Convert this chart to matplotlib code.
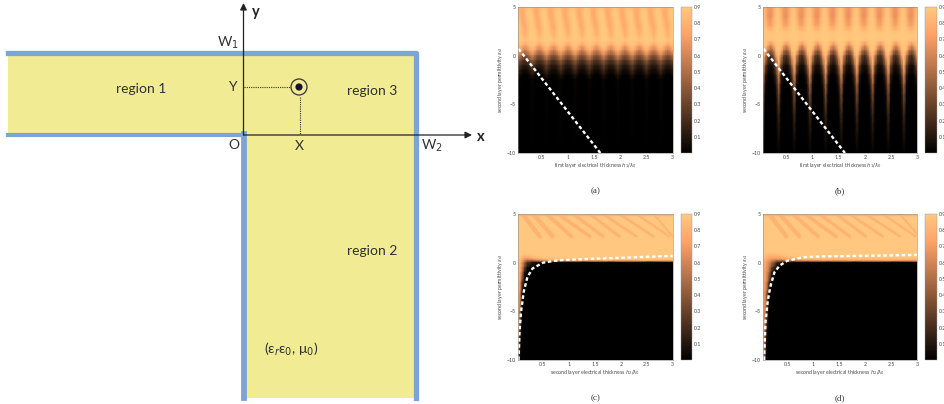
import matplotlib
matplotlib.use("Agg")
import matplotlib.pyplot as plt
import numpy as np
from matplotlib.patches import Circle, Rectangle

W, H = 944, 404
plt.rcParams["font.family"] = ["Lato", "DejaVu Sans"]

# --- one repeating period of panels (a) and (b)
rows_a = [5, 4.5, 4, 3, 2, 1.5, 1, 0.5, 0, -0.5, -1, -1.5, -2, -2.5, -10]
cell_a = [
    [0.84, 0.80, 0.78, 0.82, 0.86, 0.88],
    [0.88, 0.78, 0.76, 0.84, 0.89, 0.90],
    [0.90, 0.80, 0.76, 0.82, 0.89, 0.90],
    [0.90, 0.88, 0.78, 0.76, 0.84, 0.90],
    [0.90, 0.90, 0.88, 0.80, 0.86, 0.90],
    [0.90, 0.90, 0.90, 0.88, 0.89, 0.90],
    [0.88, 0.86, 0.78, 0.72, 0.78, 0.86],
    [0.80, 0.72, 0.62, 0.56, 0.62, 0.72],
    [0.62, 0.52, 0.42, 0.38, 0.42, 0.52],
    [0.42, 0.34, 0.25, 0.22, 0.26, 0.34],
    [0.28, 0.20, 0.14, 0.12, 0.14, 0.20],
    [0.20, 0.12, 0.06, 0.05, 0.06, 0.12],
    [0.10, 0.05, 0.02, 0.01, 0.02, 0.05],
    [0.03, 0.01, 0.00, 0.00, 0.00, 0.01],
    [0.00, 0.00, 0.00, 0.00, 0.00, 0.00],
]
rows_b = [5, 4, 3, 2.5, 2, 1.5, 1, 0.5, 0, -1, -2, -3, -4, -5, -6, -7, -8, -9, -10]
cell_b = [
    [0.88, 0.78, 0.70, 0.68, 0.75, 0.86],
    [0.89, 0.80, 0.68, 0.66, 0.76, 0.88],
    [0.90, 0.86, 0.76, 0.74, 0.84, 0.90],
    [0.90, 0.89, 0.87, 0.86, 0.88, 0.90],
    [0.90, 0.90, 0.90, 0.90, 0.90, 0.90],
    [0.90, 0.90, 0.88, 0.86, 0.88, 0.90],
    [0.90, 0.88, 0.72, 0.62, 0.74, 0.88],
    [0.90, 0.80, 0.52, 0.42, 0.54, 0.82],
    [0.88, 0.60, 0.30, 0.22, 0.36, 0.70],
    [0.80, 0.30, 0.10, 0.06, 0.12, 0.40],
    [0.62, 0.12, 0.02, 0.01, 0.03, 0.18],
    [0.45, 0.05, 0.00, 0.00, 0.00, 0.08],
    [0.34, 0.02, 0.00, 0.00, 0.00, 0.03],
    [0.26, 0.01, 0.00, 0.00, 0.00, 0.02],
    [0.18, 0.00, 0.00, 0.00, 0.00, 0.01],
    [0.13, 0.00, 0.00, 0.00, 0.00, 0.00],
    [0.09, 0.00, 0.00, 0.00, 0.00, 0.00],
    [0.05, 0.00, 0.00, 0.00, 0.00, 0.00],
    [0.02, 0.00, 0.00, 0.00, 0.00, 0.00],
]

# --- panels (c) and (d): coarse samples around the black corner
cols_cd = [0.02, 0.06, 0.1, 0.15, 0.2, 0.3, 0.4, 0.5, 0.7, 1, 1.5, 2, 3]
rows_cd = [5, 1.5, 1, 0.7, 0.4, 0.2, 0, -0.5, -1, -2, -3, -5, -7, -10]
field_c = [
    [0.90] * 13,
    [0.90] * 13,
    [0.90, 0.90, 0.90, 0.90, 0.90, 0.90, 0.90, 0.90, 0.90, 0.90, 0.90, 0.90, 0.90],
    [0.90, 0.90, 0.88, 0.84, 0.85, 0.88, 0.90, 0.90, 0.90, 0.90, 0.90, 0.90, 0.90],
    [0.90, 0.88, 0.80, 0.72, 0.70, 0.76, 0.82, 0.86, 0.88, 0.90, 0.90, 0.90, 0.90],
    [0.90, 0.86, 0.74, 0.60, 0.50, 0.50, 0.60, 0.66, 0.72, 0.76, 0.78, 0.80, 0.80],
    [0.90, 0.84, 0.68, 0.45, 0.25, 0.10, 0.05, 0.03, 0.02, 0.02, 0.02, 0.02, 0.02],
    [0.90, 0.80, 0.62, 0.30, 0.06, 0.00, 0.00, 0.00, 0.00, 0.00, 0.00, 0.00, 0.00],
    [0.90, 0.76, 0.55, 0.10, 0.00, 0.00, 0.00, 0.00, 0.00, 0.00, 0.00, 0.00, 0.00],
    [0.90, 0.70, 0.30, 0.00, 0.00, 0.00, 0.00, 0.00, 0.00, 0.00, 0.00, 0.00, 0.00],
    [0.90, 0.66, 0.10, 0.00, 0.00, 0.00, 0.00, 0.00, 0.00, 0.00, 0.00, 0.00, 0.00],
    [0.90, 0.50, 0.00, 0.00, 0.00, 0.00, 0.00, 0.00, 0.00, 0.00, 0.00, 0.00, 0.00],
    [0.88, 0.20, 0.00, 0.00, 0.00, 0.00, 0.00, 0.00, 0.00, 0.00, 0.00, 0.00, 0.00],
    [0.70, 0.00, 0.00, 0.00, 0.00, 0.00, 0.00, 0.00, 0.00, 0.00, 0.00, 0.00, 0.00],
]
field_d = [
    [0.90] * 13,
    [0.90] * 13,
    [0.90, 0.90, 0.90, 0.90, 0.90, 0.90, 0.90, 0.90, 0.90, 0.90, 0.90, 0.90, 0.90],
    [0.90, 0.88, 0.84, 0.80, 0.80, 0.82, 0.86, 0.88, 0.90, 0.90, 0.90, 0.90, 0.90],
    [0.90, 0.84, 0.78, 0.74, 0.72, 0.72, 0.76, 0.80, 0.84, 0.86, 0.86, 0.86, 0.86],
    [0.90, 0.80, 0.74, 0.68, 0.62, 0.50, 0.50, 0.56, 0.64, 0.70, 0.72, 0.74, 0.74],
    [0.90, 0.78, 0.70, 0.62, 0.50, 0.20, 0.08, 0.04, 0.02, 0.02, 0.02, 0.02, 0.02],
    [0.90, 0.76, 0.68, 0.56, 0.30, 0.02, 0.00, 0.00, 0.00, 0.00, 0.00, 0.00, 0.00],
    [0.90, 0.74, 0.66, 0.50, 0.12, 0.00, 0.00, 0.00, 0.00, 0.00, 0.00, 0.00, 0.00],
    [0.90, 0.72, 0.62, 0.25, 0.00, 0.00, 0.00, 0.00, 0.00, 0.00, 0.00, 0.00, 0.00],
    [0.90, 0.70, 0.50, 0.04, 0.00, 0.00, 0.00, 0.00, 0.00, 0.00, 0.00, 0.00, 0.00],
    [0.90, 0.66, 0.30, 0.00, 0.00, 0.00, 0.00, 0.00, 0.00, 0.00, 0.00, 0.00, 0.00],
    [0.88, 0.60, 0.10, 0.00, 0.00, 0.00, 0.00, 0.00, 0.00, 0.00, 0.00, 0.00, 0.00],
    [0.80, 0.40, 0.00, 0.00, 0.00, 0.00, 0.00, 0.00, 0.00, 0.00, 0.00, 0.00, 0.00],
]

# darker leaves at the top of (c) and (d): x at the top edge, x at the lower end
streak_top = [0.11, 0.31, 0.57, 0.79, 1.08, 1.40, 1.66, 1.97, 2.30, 2.63]
streak_end = [0.44, 0.69, 1.05, 1.40, 1.66, 1.97, 2.30, 2.63, 2.93, 3.00]

# white dashed curves
dash_ab_x = [0.06, 1.62]
dash_ab_y = [0.7, -10]
dash_c_x = [0.03, 0.05, 0.08, 0.13, 0.2, 0.3, 0.5, 0.8, 1.2, 2, 3]
dash_c_y = [-10, -7, -5, -3, -1.5, -0.6, 0.0, 0.25, 0.35, 0.5, 0.7]
dash_d_x = [0.05, 0.08, 0.12, 0.17, 0.25, 0.35, 0.5, 0.8, 1.2, 2, 3]
dash_d_y = [-10, -6, -4, -2.5, -1, -0.3, 0.2, 0.55, 0.65, 0.7, 0.8]

cbar_ticks = [0.1, 0.2, 0.3, 0.4, 0.5, 0.6, 0.7, 0.8, 0.9]
x_ticks = [0.5, 1, 1.5, 2, 2.5, 3]
x_ticklabels = ["0.5", "1", "1.5", "2", "2.5", "3"]
y_ticks = [5, 0, -5, -10]
y_ticklabels = ["5", "0", "\u22125", "\u221210"]

TXT = "#4a4a4a"
small = 3.8

fig = plt.figure(figsize=(W / 100, H / 100), dpi=100)


def px_axes(x0, y0, x1, y1):
    return fig.add_axes([x0 / W, 1 - y1 / H, (x1 - x0) / W, (y1 - y0) / H])


def panel(box, cbar, xs, ys, z, xleft, xlabel, tag):
    ax = px_axes(*box)
    mesh = ax.pcolormesh(xs, ys, z, shading="gouraud", cmap="copper", vmin=0, vmax=0.9,
                         rasterized=True)
    ax.set_xlim(xleft, 3)
    ax.set_ylim(-10, 5)
    ax.set_xticks(x_ticks, x_ticklabels)
    ax.set_yticks(y_ticks, y_ticklabels)
    ax.tick_params(labelsize=small, length=0, pad=1.5, colors=TXT)
    for s in ax.spines.values():
        s.set_linewidth(0.4)
        s.set_color("#8a8a8a")
    ax.set_xlabel(xlabel, fontsize=small, color=TXT, labelpad=1)
    ax.set_ylabel(r"second layer permittivity $\epsilon_{r2}$", fontsize=small, color=TXT, labelpad=1)
    cax = px_axes(*cbar)
    cb = fig.colorbar(mesh, cax=cax, ticks=cbar_ticks)
    cb.ax.tick_params(labelsize=small, length=0, pad=1.5, colors=TXT)
    cb.outline.set_linewidth(0.3)
    cb.outline.set_edgecolor("#999999")
    fig.text((box[0] + box[2]) / 2 / W, 1 - tag[1] / H, tag[0], family="Liberation Serif",
             fontsize=6.5, color="#333333", ha="center", va="center")
    return ax


def dashes(ax, x, y):
    ax.plot(x, y, color="white", lw=1.7, dashes=(1.5, 1.1), clip_on=True)


def streaks(ax, shift):
    leaf = plt.get_cmap("copper")(0.80 / 0.9)
    for i, (a, b) in enumerate(zip(streak_top, streak_end)):
        ax.plot([a + shift, b + shift], [5, 2.7], color=leaf, lw=3.2 - 0.2 * i,
                solid_capstyle="round", alpha=0.9)
    ax.axhline(4.85, color=leaf, lw=1.0)


# --- panel (a)
z = np.tile(np.array(cell_a), (1, 11))
xs = np.linspace(0.05, 3, z.shape[1])
ax = panel((518, 7, 672.7, 153), (681, 7, 692, 153), xs, rows_a, z, 0.05,
           r"first layer electrical thickness $h_1/\lambda_0$", ("(a)", 191))
dashes(ax, dash_ab_x, dash_ab_y)

# --- panel (b)
z = np.tile(np.array(cell_b), (1, 10))
xs = np.linspace(0.05, 3, z.shape[1])
ax = panel((763, 7, 917, 153), (925, 7, 937, 153), xs, rows_b, z, 0.05,
           r"first layer electrical thickness $h_1/\lambda_0$", ("(b)", 191))
dashes(ax, dash_ab_x, dash_ab_y)

# --- panel (c)
ax = panel((518, 214, 672.7, 360), (681, 214, 692, 360), cols_cd, rows_cd, field_c, 0.02,
           r"second layer electrical thickness $h_2/\lambda_0$", ("(c)", 398))
streaks(ax, 0)
dashes(ax, dash_c_x, dash_c_y)

# --- panel (d)
ax = panel((763, 214, 917, 360), (925, 214, 937, 360), cols_cd, rows_cd, field_d, 0.03,
           r"second layer electrical thickness $h_2/\lambda_0$", ("(d)", 398))
streaks(ax, 0.04)
dashes(ax, dash_d_x, dash_d_y)

# --- left schematic, drawn in picture pixels
sch = fig.add_axes([0, 0, 1, 1], zorder=-1)
sch.set_xlim(0, W)
sch.set_ylim(H, 0)
sch.axis("off")

YELLOW = "#F1EC93"
BLUE = "#7BA5D8"
DARK = "#303030"
sch.add_patch(Rectangle((8, 52), 408, 82, fc=YELLOW, ec="none"))
sch.add_patch(Rectangle((243, 134), 173, 264, fc=YELLOW, ec="none"))
sch.plot([8, 416, 416], [52.5, 52.5, 398], color=BLUE, lw=3.8, solid_joinstyle="round")
sch.plot([8, 243], [134.5, 134.5], color=BLUE, lw=3.0)
sch.plot([244, 244], [134, 398], color=BLUE, lw=4.2)

sch.annotate("", xy=(243.5, 3), xytext=(243.5, 135),
             arrowprops=dict(arrowstyle="-|>", color="#222222", lw=0.9, shrinkA=0, shrinkB=0))
sch.annotate("", xy=(472, 135), xytext=(243.5, 135),
             arrowprops=dict(arrowstyle="-|>", color="#222222", lw=0.9, shrinkA=0, shrinkB=0))
sch.plot([244, 290], [87, 87], color="#333333", lw=0.8, ls=(0, (1, 1)))
sch.plot([300, 300], [97, 134], color="#333333", lw=0.8, ls=(0, (1, 1)))
sch.add_patch(Circle((299, 87), 8, fc="none", ec="#333333", lw=0.9))
sch.add_patch(Circle((299, 87), 3.6, fc="#15122e", ec="none"))

labels = [
    ("region 1", 141, 89), ("region 3", 372, 91), ("region 2", 372, 251),
    ("Y", 232, 87), ("O", 234, 145), ("X", 299, 146),
    ("W$_1$", 228, 43), ("W$_2$", 432, 146),
    ("(\u03b5$_r$\u03b5$_0$, \u03bc$_0$)", 291, 349),
]
for s, x, y in labels:
    sch.text(x, y, s, fontsize=10, color=DARK, ha="center", va="center")
sch.text(256, 12, "y", fontsize=10.5, fontweight="bold", color="#222222", ha="center", va="center")
sch.text(481, 137, "x", fontsize=10.5, fontweight="bold", color="#222222", ha="center", va="center")

fig.savefig("out.png", dpi=100)
